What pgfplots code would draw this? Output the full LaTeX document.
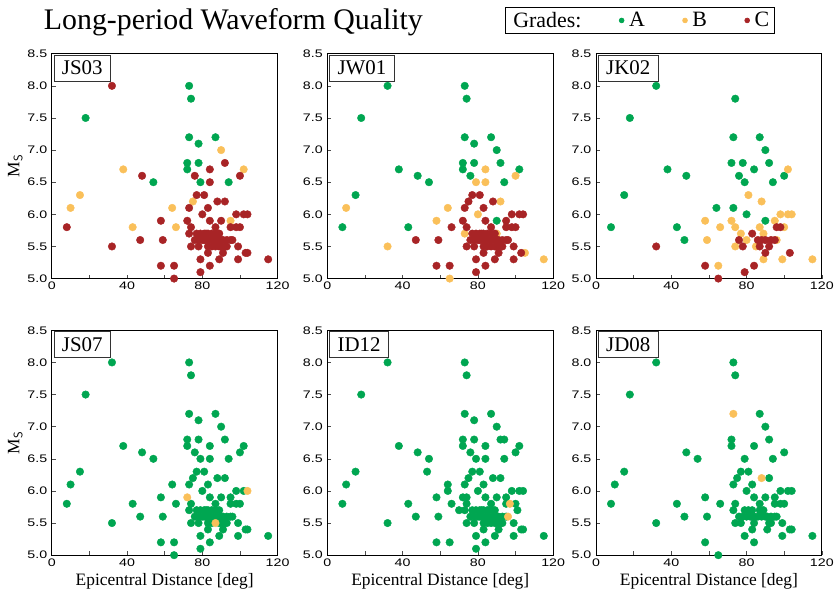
\documentclass[border=0pt]{standalone}
\usepackage{fontspec}
\setmainfont{Liberation Serif}
\newfontfamily\tickfont{Liberation Sans}
\usepackage{pgfplots}
\pgfplotsset{compat=1.18}
\definecolor{gA}{RGB}{0,166,81}
\definecolor{gB}{RGB}{250,192,90}
\definecolor{gC}{RGB}{168,36,38}
\tikzset{plabel/.style={draw=black!80, line width=0.6pt, fill=white, anchor=north west, inner xsep=8pt, inner ysep=6pt, text height=14pt, text depth=0pt, font=\fontsize{21}{21}\selectfont, xshift=2pt, yshift=-1pt}}
\pgfplotsset{
 panel/.style={
  scale only axis, width=227pt, height=226pt,
  xmin=0, xmax=120, ymin=5, ymax=8.5,
  xtick={0,20,40,60,80,100,120}, xticklabels={0,,40,,80,,120},
  ytick={5,5.5,6,6.5,7,7.5,8,8.5},
  /pgf/number format/assume math mode=true,
  tick label style={font=\tickfont\fontsize{11}{13}\selectfont, xscale=1.3},
  yticklabel style={/pgf/number format/.cd, fixed, fixed zerofill, precision=1},
  tick align=inside, xtick pos=left, ytick pos=left,
  major tick length=4pt,
  axis line style={line width=0.9pt},
  tick style={line width=0.6pt, color=black!70},
  label style={font=\fontsize{17.5}{19}\selectfont},
  ylabel shift=-3pt,
 },
 pA/.style={only marks, mark=*, mark size=3.8pt, color=gA},
 pB/.style={only marks, mark=*, mark size=3.8pt, color=gB},
 pC/.style={only marks, mark=*, mark size=3.8pt, color=gC},
}
\begin{document}
\begin{tikzpicture}
\path (0,0) rectangle (838pt,-604pt);
\node[anchor=base west, font=\fontsize{30}{32}\selectfont, inner sep=0pt] at (44pt,-30pt) {Long-period Waveform Quality};

% JS03
\begin{axis}[panel, at={(52pt,-54pt)}, anchor=north west, ylabel={M$_{\mathsf{S}}$}]
\node[plabel] at (rel axis cs:0,1) {JS03};
\addplot[pA] coordinates {(18,7.5)(54,6.5)(72,6.8)(72,6.7)(73,8.0)(74,7.8)(73,7.2)(78,7.1)(78,6.8)(79,6.5)(87,7.2)(94,6.5)};
\addplot[pB] coordinates {(10,6.1)(15,6.3)(38,6.7)(43,5.8)(64,6.1)(66,5.8)(90,7.0)(102,6.7)(75,6.2)(95,5.9)(88,5.7)};
\addplot[pC] coordinates {(8,5.8)(32,8.0)(32,5.5)(47,5.6)(48,6.6)(58,5.9)(58,5.2)(59,5.6)(65,5.2)(65,5.0)(76,6.6)(92,6.8)(84,6.7)(84,6.5)(100,6.6)(77,6.3)(81,6.3)(73,6.1)(83,6.1)(88,6.2)(92,6.2)(80,6.0)(84,5.9)(90,5.9)(98,6.0)(102,6.0)(104,6.0)(95,5.8)(98,5.8)(100,5.8)(87,5.8)(72,5.9)(74,5.8)(73,5.7)(74,5.5)(79,5.3)(79,5.1)(84,5.2)(83,5.4)(89,5.3)(91,5.4)(99,5.3)(99,5.5)(103,5.4)(104,5.4)(115,5.3)(93,5.5)(87,5.5)
(76,5.6)(77,5.7)(78,5.5)(78,5.6)(79,5.7)(80,5.6)(81,5.7)(81,5.6)(82,5.7)(82,5.6)(83,5.5)(83,5.7)(84,5.6)(85,5.5)(85,5.7)(86,5.6)(87,5.7)(88,5.6)(89,5.7)(90,5.6)(90,5.5)(91,5.6)(92,5.5)(93,5.6)(95,5.6)(96,5.6)(89,5.5)};
\end{axis}

% JW01
\begin{axis}[panel, at={(329pt,-54pt)}, anchor=north west]
\node[plabel] at (rel axis cs:0,1) {JW01};
\addplot[pA] coordinates {(8,5.8)(15,6.3)(18,7.5)(32,8.0)(38,6.7)(43,5.8)(48,6.6)(54,6.5)(72,6.8)(72,6.7)(73,8.0)(74,7.8)(73,7.2)(78,7.1)(78,6.8)(76,6.6)(87,7.2)(90,7.0)(92,6.8)(94,6.5)(102,6.7)(90,5.9)};
\addplot[pB] coordinates {(10,6.1)(32,5.5)(58,5.9)(64,6.1)(65,5.0)(79,6.5)(84,6.7)(84,6.5)(100,6.6)(92,6.2)(80,6.0)(73,5.7)(105,5.4)(115,5.3)(90,5.7)};
\addplot[pC] coordinates {(47,5.6)(58,5.2)(59,5.6)(65,5.2)(66,5.8)(77,6.3)(81,6.3)(75,6.2)(73,6.1)(83,6.1)(88,6.2)(84,5.9)(95,5.9)(98,6.0)(102,6.0)(104,6.0)(95,5.8)(98,5.8)(100,5.8)(87,5.8)(72,5.9)(74,5.8)(74,5.5)(79,5.3)(79,5.1)(84,5.2)(83,5.4)(89,5.3)(91,5.4)(99,5.3)(99,5.5)(103,5.4)(93,5.5)(87,5.5)
(76,5.6)(77,5.7)(78,5.5)(78,5.6)(79,5.7)(80,5.6)(81,5.7)(81,5.6)(82,5.7)(82,5.6)(83,5.5)(83,5.7)(84,5.6)(85,5.5)(85,5.7)(86,5.6)(87,5.7)(88,5.6)(89,5.7)(90,5.6)(90,5.5)(91,5.6)(92,5.5)(93,5.6)(95,5.6)(96,5.6)(89,5.5)};
\end{axis}

% JK02
\begin{axis}[panel, at={(599pt,-54pt)}, anchor=north west,
  legend columns=4,
  legend image code/.code={\draw[mark repeat=2,mark phase=2] plot coordinates {(0cm,0cm)(0.1cm,0cm)(0.2cm,0cm)};},
  legend image post style={mark size=2.4pt},
  legend style={at={(0.194,1.148)}, anchor=center, draw=black, line width=0.7pt, font=\fontsize{22}{24}\selectfont, inner xsep=3pt, inner ysep=3pt,
    /tikz/every odd column/.append style={column sep=3pt},
    /tikz/every even column/.append style={column sep=36pt},
    /tikz/column 2/.style={column sep=8pt}}]
\node[plabel] at (rel axis cs:0,1) {JK02};
\addlegendimage{empty legend}
\addlegendentry{Grades:}
\addplot[pA] coordinates {(8,5.8)(15,6.3)(18,7.5)(32,8.0)(38,6.7)(43,5.8)(47,5.6)(48,6.6)(64,6.1)(72,6.8)(74,7.8)(73,7.2)(78,6.8)(76,6.6)(79,6.5)(87,7.2)(90,7.0)(92,6.8)(84,6.7)(94,6.5)(100,6.6)(73,6.1)(80,6.0)(90,5.9)};
\addlegendentry{A}
\addplot[pB] coordinates {(58,5.9)(59,5.6)(65,5.2)(66,5.8)(102,6.7)(81,6.3)(88,6.2)(95,5.9)(98,6.0)(102,6.0)(104,6.0)(100,5.8)(87,5.8)(72,5.9)(74,5.8)(74,5.5)(89,5.3)(99,5.3)(115,5.3)(77,5.7)(80,5.6)(85,5.5)(89,5.7)(96,5.6)};
\addlegendentry{B}
\addplot[pC] coordinates {(32,5.5)(58,5.2)(65,5.0)(79,5.1)(84,5.2)(76,5.6)(78,5.5)(83,5.7)(86,5.6)(88,5.6)(90,5.6)(87,5.5)(90,5.4)(92,5.5)(93,5.6)(95,5.6)(96,5.8)(98,5.8)(103,5.4)};
\addlegendentry{C}
\end{axis}

% JS07
\begin{axis}[panel, at={(52pt,-332pt)}, anchor=north west, ylabel={M$_{\mathsf{S}}$}, xlabel={Epicentral Distance [deg]}]
\node[plabel] at (rel axis cs:0,1) {JS07};
\addplot[pA] coordinates {(8,5.8)(10,6.1)(15,6.3)(18,7.5)(32,8.0)(32,5.5)(38,6.7)(43,5.8)(47,5.6)(48,6.6)(54,6.5)(58,5.9)(58,5.2)(59,5.6)(64,6.1)(65,5.2)(65,5.0)(66,5.8)(72,6.8)(72,6.7)(73,8.0)(74,7.8)(73,7.2)(78,7.1)(78,6.8)(76,6.6)(79,6.5)(87,7.2)(90,7.0)(92,6.8)(84,6.7)(84,6.5)(94,6.5)(100,6.6)(102,6.7)(77,6.3)(81,6.3)(75,6.2)(73,6.1)(83,6.1)(88,6.2)(92,6.2)(80,6.0)(84,5.9)(90,5.9)(95,5.9)(98,6.0)(102,6.0)(95,5.8)(98,5.8)(100,5.8)(87,5.8)(74,5.8)(73,5.7)(74,5.5)(79,5.3)(79,5.1)(84,5.2)(83,5.4)(89,5.3)(91,5.4)(99,5.3)(99,5.5)(103,5.4)(104,5.4)(115,5.3)(93,5.5)
(76,5.6)(77,5.7)(78,5.5)(78,5.6)(79,5.7)(80,5.6)(81,5.7)(81,5.6)(82,5.7)(82,5.6)(83,5.5)(83,5.7)(84,5.6)(85,5.5)(85,5.7)(86,5.6)(87,5.7)(88,5.6)(89,5.7)(90,5.6)(90,5.5)(91,5.6)(92,5.5)(93,5.6)(95,5.6)(96,5.6)(89,5.5)};
\addplot[pB] coordinates {(72,5.9)(87,5.5)(104,6.0)};
\end{axis}

% ID12
\begin{axis}[panel, at={(329pt,-332pt)}, anchor=north west, xlabel={Epicentral Distance [deg]}]
\node[plabel] at (rel axis cs:0,1) {ID12};
\addplot[pA] coordinates {(8,5.8)(10,6.1)(15,6.3)(18,7.5)(32,8.0)(32,5.5)(38,6.7)(43,5.8)(47,5.6)(48,6.6)(54,6.5)(53,6.3)(58,5.9)(58,5.2)(59,5.6)(64,6.1)(64,6.0)(65,5.2)(66,5.8)(70,5.7)(72,6.8)(72,6.7)(73,8.0)(74,7.8)(73,7.2)(78,7.1)(78,6.8)(76,6.6)(79,6.5)(87,7.2)(90,7.0)(92,6.8)(94,6.8)(84,6.7)(84,6.5)(94,6.5)(100,6.6)(102,6.7)(77,6.3)(81,6.3)(75,6.2)(73,6.1)(83,6.1)(88,6.2)(92,6.2)(80,6.0)(84,5.9)(90,5.9)(95,5.9)(98,6.0)(102,6.0)(104,6.0)(95,5.8)(100,5.8)(101,5.7)(87,5.8)(72,5.9)(74,5.9)(74,5.8)(73,5.7)(74,5.5)(79,5.3)(79,5.1)(84,5.2)(83,5.4)(89,5.3)(91,5.4)(99,5.3)(99,5.5)(103,5.4)(104,5.4)(115,5.3)(93,5.5)(87,5.5)
(76,5.6)(77,5.7)(78,5.5)(78,5.6)(79,5.7)(80,5.6)(81,5.7)(81,5.6)(82,5.7)(82,5.6)(83,5.5)(83,5.7)(84,5.6)(85,5.5)(85,5.7)(86,5.6)(87,5.7)(88,5.6)(89,5.7)(90,5.6)(90,5.5)(91,5.6)(92,5.5)(93,5.6)(95,5.6)(89,5.5)};
\addplot[pB] coordinates {(97,5.8)(96,5.6)};
\end{axis}

% JD08
\begin{axis}[panel, at={(599pt,-332pt)}, anchor=north west, xlabel={Epicentral Distance [deg]}]
\node[plabel] at (rel axis cs:0,1) {JD08};
\addplot[pA] coordinates {(8,5.8)(10,6.1)(15,6.3)(18,7.5)(32,8.0)(32,5.5)(43,5.8)(47,5.6)(48,6.6)(54,6.5)(58,5.9)(58,5.2)(59,5.6)(65,5.0)(66,5.8)(72,6.8)(72,6.7)(73,8.0)(74,7.8)(79,6.5)(87,7.2)(90,7.0)(92,6.8)(84,6.7)(94,6.5)(100,6.6)(77,6.3)(81,6.3)(75,6.2)(73,6.1)(83,6.1)(92,6.2)(80,6.0)(84,5.9)(90,5.9)(95,5.9)(98,6.0)(102,6.0)(104,6.0)(95,5.8)(98,5.8)(100,5.8)(87,5.8)(74,5.8)(73,5.7)(74,5.5)(79,5.3)(84,5.2)(83,5.4)(91,5.4)(99,5.3)(99,5.5)(103,5.4)(104,5.4)(115,5.3)(93,5.5)
(76,5.6)(77,5.5)(78,5.6)(79,5.7)(80,5.6)(81,5.7)(82,5.6)(83,5.7)(84,5.6)(84,5.5)(86,5.6)(87,5.7)(88,5.6)(89,5.7)(90,5.6)(91,5.6)(92,5.5)(93,5.6)(95,5.6)(96,5.6)};
\addplot[pB] coordinates {(73,7.2)(88,6.2)};
\end{axis}
\end{tikzpicture}
\end{document}
